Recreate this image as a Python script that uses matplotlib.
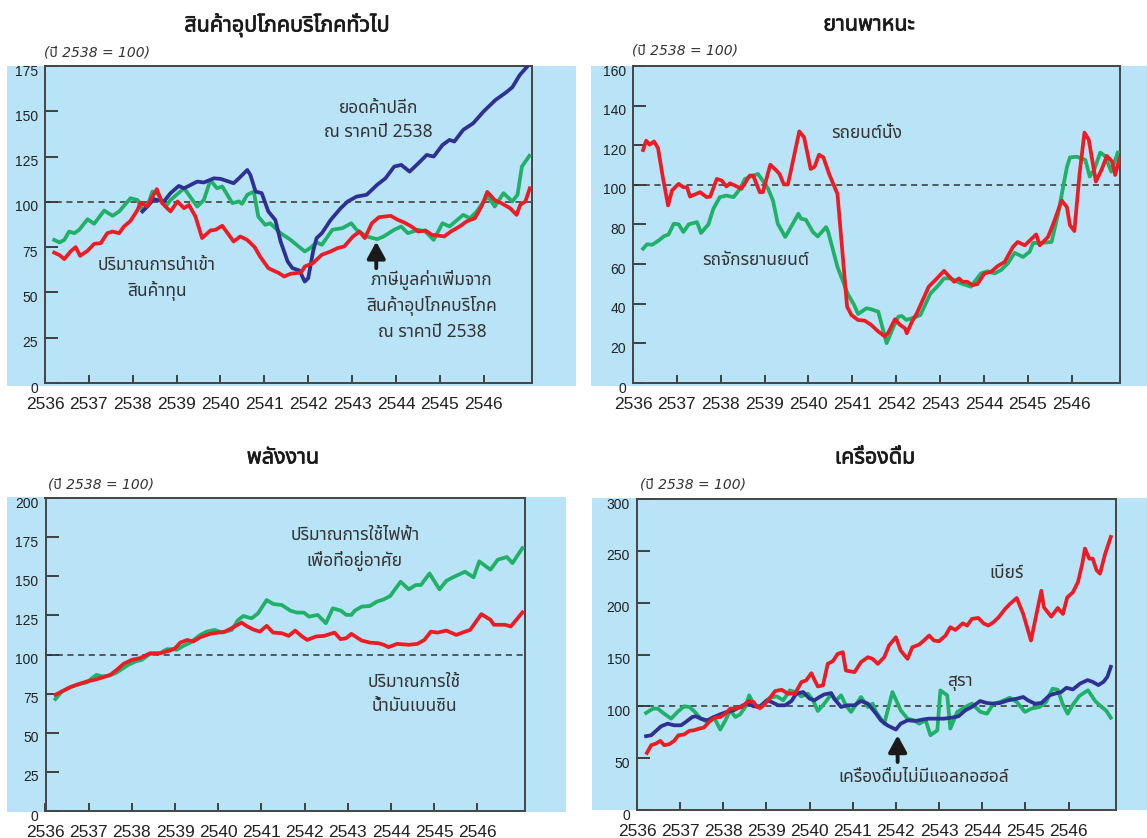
import matplotlib
matplotlib.use('Agg')
import matplotlib.pyplot as plt
import matplotlib.transforms as mtransforms
import matplotlib.patheffects as pe
from matplotlib.patches import Rectangle
from matplotlib import font_manager
from matplotlib.ft2font import FT2Font

# ---- data (index, 2538 = 100) ----
years = list(range(2536, 2547))

# general consumer goods
retail_x = [2538.22, 2538.33, 2538.48, 2538.71, 2538.86, 2539.05, 2539.17, 2539.47, 2539.62, 2539.85,
            2540.0, 2540.3, 2540.42, 2540.61, 2540.68, 2540.8, 2540.94, 2541.09, 2541.25, 2541.37,
            2541.53, 2541.64, 2541.8, 2541.92, 2542.0, 2542.11, 2542.19, 2542.31, 2542.51, 2542.74,
            2542.9, 2543.1, 2543.33, 2543.57, 2543.76, 2543.96, 2544.12, 2544.31, 2544.51, 2544.7,
            2544.86, 2545.06, 2545.22, 2545.33, 2545.53, 2545.76, 2546.0, 2546.27, 2546.48, 2546.65,
            2546.82, 2547.04]
retail_y = [94.7, 97.4, 101.5, 100.2, 104.8, 108.8, 107.5, 111.2, 110.7, 113,
            112.7, 110.3, 113, 117.6, 114.9, 105.7, 104.8, 94.7, 90, 78.1,
            67.1, 63.4, 62.1, 56, 57.9, 72.6, 80, 82.7, 90, 96.5,
            100.2, 102.9, 103.9, 109.4, 113, 119.5, 120.4, 116.7, 121.3, 125.9,
            125, 131.4, 134.2, 133.3, 139.7, 143.4, 150, 156.3, 159.9, 163.2,
            170, 176]

vat_x = [2536.21, 2536.33, 2536.44, 2536.55, 2536.67, 2536.78, 2536.97, 2537.12, 2537.35, 2537.54,
         2537.69, 2537.95, 2538.11, 2538.22, 2538.33, 2538.45, 2538.56, 2538.75, 2538.86, 2539.17,
         2539.47, 2539.62, 2539.77, 2539.92, 2540.04, 2540.27, 2540.42, 2540.49, 2540.61, 2540.76,
         2540.86, 2541.02, 2541.13, 2541.37, 2541.6, 2541.92, 2542.04, 2542.19, 2542.31, 2542.55,
         2542.78, 2542.98, 2543.1, 2543.33, 2543.57, 2543.72, 2543.96, 2544.12, 2544.27, 2544.51,
         2544.67, 2544.86, 2545.06, 2545.22, 2545.53, 2545.69, 2545.84, 2546.0, 2546.1, 2546.25,
         2546.45, 2546.65, 2546.77, 2546.87, 2547.04]
vat_y = [79, 77.6, 79, 83.6, 82.7, 84.6, 90.4, 87.9, 95.2, 92.3,
         94.7, 102, 101, 95.6, 97.4, 105.7, 104.8, 97.4, 101, 107.5,
         97.4, 101, 112, 107.5, 108.5, 99.3, 100.2, 98.9, 103.9, 105.7,
         91.9, 87.3, 88.2, 82.7, 79, 72.6, 74.4, 77.6, 76.3, 84.6,
         85.5, 88.2, 84.6, 80.9, 79.4, 80.9, 84.6, 86.4, 82.7, 84.6,
         83.6, 79, 88.2, 86.4, 92.8, 91, 94.7, 100.2, 103, 97.4,
         104.8, 100.2, 103.9, 119.5, 125.4]

imp_x = [2536.21, 2536.33, 2536.44, 2536.59, 2536.7, 2536.8, 2536.97, 2537.12, 2537.27, 2537.42,
         2537.54, 2537.69, 2537.8, 2537.95, 2538.11, 2538.18, 2538.33, 2538.45, 2538.55, 2538.67,
         2538.86, 2539.02, 2539.17, 2539.28, 2539.43, 2539.58, 2539.77, 2539.89, 2540.04, 2540.3,
         2540.45, 2540.61, 2540.78, 2540.9, 2541.09, 2541.33, 2541.45, 2541.6, 2541.84, 2541.92,
         2542.11, 2542.31, 2542.51, 2542.66, 2542.82, 2543.02, 2543.17, 2543.29, 2543.45, 2543.61,
         2543.88, 2544.04, 2544.19, 2544.35, 2544.51, 2544.67, 2544.82, 2545.1, 2545.25, 2545.45,
         2545.61, 2545.8, 2545.96, 2546.08, 2546.25, 2546.4, 2546.6, 2546.75, 2546.83, 2546.95,
         2547.05]
imp_y = [72, 70.6, 68.4, 72.8, 75, 70.2, 73, 76.8, 77.2, 82.7,
         83.6, 82.7, 86.4, 89.5, 95.6, 99.6, 97.4, 102.9, 107, 99.3,
         94.7, 100.2, 96.5, 98.3, 91.9, 80, 84.2, 84.6, 86.8, 78.1,
         80.9, 79, 75, 69.9, 63.4, 60.7, 58.8, 60.3, 61, 64.3,
         66.2, 70.8, 72.6, 74.4, 75.4, 80.9, 83.6, 80, 88.2, 91.5,
         92.3, 90.1, 88.6, 86.4, 83.6, 84.2, 81.8, 80.9, 83.6, 86.4,
         89.2, 91, 98, 105.5, 101, 99.3, 96.5, 92.8, 98.3, 100.2,
         107.5]

# vehicles
car_x = [2536.23, 2536.3, 2536.38, 2536.48, 2536.57, 2536.68, 2536.8, 2536.89, 2537.04, 2537.15,
         2537.23, 2537.3, 2537.53, 2537.68, 2537.76, 2537.91, 2538.02, 2538.13, 2538.21, 2538.32,
         2538.47, 2538.66, 2538.74, 2538.89, 2538.96, 2539.13, 2539.27, 2539.34, 2539.44, 2539.53,
         2539.6, 2539.79, 2539.9, 2540.05, 2540.14, 2540.24, 2540.34, 2540.47, 2540.66, 2540.88,
         2540.98, 2541.13, 2541.28, 2541.43, 2541.59, 2541.74, 2541.82, 2541.97, 2542.09, 2542.2,
         2542.24, 2542.36, 2542.47, 2542.74, 2542.89, 2543.09, 2543.32, 2543.43, 2543.51, 2543.62,
         2543.74, 2543.85, 2544.01, 2544.16, 2544.31, 2544.47, 2544.66, 2544.77, 2544.93, 2545.19,
         2545.27, 2545.46, 2545.58, 2545.77, 2545.89, 2545.96, 2546.06, 2546.18, 2546.29, 2546.39,
         2546.55, 2546.68, 2546.8, 2546.92, 2546.99, 2547.09]
car_y = [117.6, 122.3, 120.3, 121.9, 118.6, 103.9, 89.6, 97.2, 100.5, 98.8,
         98.8, 94.1, 96.3, 93.8, 94.1, 103, 102.2, 99.2, 100.8, 99.7,
         98, 104.7, 104.7, 96.3, 96.3, 110.2, 107.2, 105.5, 100.2, 100.2,
         107.2, 127, 124, 108, 109.2, 115.2, 113.9, 105.5, 95.5, 38.5,
         34.3, 31.8, 31.5, 29.3, 26, 23.5, 25.5, 32.2, 29.3, 27.6,
         25.1, 31, 35.2, 48.6, 51.9, 56.6, 51.1, 52.8, 51.1, 51.1,
         49.4, 49.9, 55.3, 56.1, 59, 61.1, 68.7, 71.2, 69.5, 75,
         69.5, 73.7, 80.4, 92.1, 88.8, 79.6, 76.7, 105.9, 126.4, 122.7,
         101.7, 107.6, 114.6, 111.8, 105, 113.4]

moto_x = [2536.23, 2536.32, 2536.44, 2536.59, 2536.7, 2536.81, 2536.93, 2537.04, 2537.15, 2537.27,
          2537.46, 2537.55, 2537.72, 2537.83, 2537.98, 2538.13, 2538.29, 2538.44, 2538.55, 2538.74,
          2538.85, 2538.93, 2539.08, 2539.19, 2539.3, 2539.47, 2539.6, 2539.77, 2539.83, 2539.94,
          2540.1, 2540.21, 2540.3, 2540.4, 2540.45, 2540.66, 2540.89, 2541.04, 2541.13, 2541.32,
          2541.43, 2541.59, 2541.78, 2541.94, 2542.05, 2542.13, 2542.23, 2542.36, 2542.55, 2542.78,
          2542.93, 2543.09, 2543.24, 2543.47, 2543.7, 2543.93, 2544.08, 2544.24, 2544.39, 2544.54,
          2544.7, 2544.89, 2545.04, 2545.12, 2545.31, 2545.54, 2545.69, 2545.81, 2545.89, 2545.96,
          2546.12, 2546.31, 2546.41, 2546.51, 2546.65, 2546.76, 2546.9, 2547.05]
moto_y = [67.8, 70, 69.8, 72, 74, 75, 80.4, 80.1, 76.2, 80.1,
          81.2, 75.7, 80.1, 87.9, 93.8, 94.6, 93.8, 98, 103, 104.7,
          105.5, 103, 98, 92.1, 80.4, 73.7, 78.7, 85.4, 82.9, 82.4,
          76.2, 74, 76.2, 78.7, 76.2, 58.6, 45.2, 39.4, 34.8, 37.7,
          37.2, 36, 20.1, 28.5, 33.5, 33.8, 31.8, 32.7, 34.3, 45.2,
          48.6, 52.8, 52.8, 50.3, 48.6, 55.3, 56.4, 55.3, 57, 60.3,
          65.7, 63.6, 66.2, 70.7, 70.7, 71.2, 85.4, 99.7, 108.9, 113.9,
          114.2, 112.6, 104.2, 107.6, 116.3, 114.6, 106.7, 116.3]

# energy
elec_x = [2536.23, 2536.38, 2536.58, 2536.81, 2536.96, 2537.08, 2537.18, 2537.31, 2537.46, 2537.62,
          2537.77, 2537.92, 2538.08, 2538.23, 2538.42, 2538.65, 2538.81, 2538.92, 2539.04, 2539.19,
          2539.35, 2539.58, 2539.73, 2539.92, 2540.08, 2540.31, 2540.46, 2540.58, 2540.77, 2540.92,
          2541.12, 2541.27, 2541.47, 2541.67, 2541.82, 2541.98, 2542.1, 2542.3, 2542.49, 2542.65,
          2542.84, 2542.96, 2543.08, 2543.16, 2543.32, 2543.51, 2543.67, 2543.83, 2543.98, 2544.22,
          2544.41, 2544.57, 2544.69, 2544.89, 2545.12, 2545.28, 2545.43, 2545.71, 2545.91, 2546.04,
          2546.3, 2546.47, 2546.68, 2546.81, 2547.04]
elec_y = [71.5, 76.4, 79.2, 81.3, 82.2, 84.9, 87, 86, 86.4, 88.1,
          90.7, 93.4, 95.5, 96.6, 100.4, 100.8, 103.4, 103.4, 103, 105.5,
          107.6, 112.5, 114.6, 115.7, 114, 115.7, 122.1, 124.6, 123.1, 126.3,
          134.8, 132.3, 131.6, 128, 126.8, 126.8, 124.2, 125.3, 120, 129.5,
          128, 125.3, 125.3, 128, 130.6, 131, 133.8, 135.2, 137.4, 146.5,
          141.6, 144.4, 144.4, 151.8, 141.6, 147.1, 149.3, 152.9, 149.3, 159.5,
          154.2, 160.6, 162.3, 158.4, 168]

gas_x = [2536.23, 2536.38, 2536.58, 2536.77, 2536.96, 2537.15, 2537.35, 2537.5, 2537.65, 2537.81,
         2538.0, 2538.19, 2538.42, 2538.65, 2538.88, 2539.0, 2539.12, 2539.28, 2539.42, 2539.58,
         2539.81, 2540.0, 2540.15, 2540.31, 2540.54, 2540.65, 2540.8, 2540.96, 2541.12, 2541.27,
         2541.47, 2541.63, 2541.78, 2541.94, 2542.06, 2542.26, 2542.45, 2542.69, 2542.83, 2542.96,
         2543.08, 2543.32, 2543.51, 2543.71, 2543.83, 2543.94, 2544.14, 2544.41, 2544.61, 2544.77,
         2544.92, 2545.08, 2545.28, 2545.51, 2545.71, 2545.83, 2546.02, 2546.09, 2546.3, 2546.38,
         2546.64, 2546.77, 2546.9, 2547.04]
gas_y = [74.3, 76.4, 79.2, 81.1, 82.8, 83.9, 85.6, 87, 90.2, 94.1,
         96.6, 97.7, 100.8, 100.8, 102.5, 104, 107.6, 109.3, 108.3, 111,
         113.2, 114, 114.6, 116.8, 120.4, 118.3, 116.1, 114.6, 118.3, 114,
         113.6, 111.9, 115.3, 111.5, 109.3, 111.5, 111.9, 114, 109.8, 110.4,
         113.2, 108.9, 107.6, 107.2, 106.2, 104.7, 106.8, 106.2, 106.8, 109.3,
         114.6, 114, 115.3, 112.5, 114.6, 115.7, 123.1, 125.8, 122.2, 119,
         119, 117.9, 122.2, 126.9]

# beverages
beer_x = [2536.23, 2536.33, 2536.44, 2536.54, 2536.63, 2536.75, 2536.86, 2536.96, 2537.09, 2537.21,
          2537.32, 2537.44, 2537.55, 2537.67, 2537.8, 2537.93, 2538.05, 2538.16, 2538.28, 2538.43,
          2538.59, 2538.7, 2538.78, 2538.89, 2539.04, 2539.2, 2539.35, 2539.5, 2539.66, 2539.81,
          2539.92, 2540.04, 2540.1, 2540.19, 2540.31, 2540.42, 2540.54, 2540.65, 2540.77, 2540.84,
          2541.04, 2541.19, 2541.35, 2541.46, 2541.58, 2541.73, 2541.84, 2542.0, 2542.11, 2542.27,
          2542.38, 2542.54, 2542.65, 2542.77, 2542.88, 2543.0, 2543.15, 2543.26, 2543.38, 2543.45,
          2543.55, 2543.65, 2543.76, 2543.91, 2544.03, 2544.14, 2544.26, 2544.38, 2544.53, 2544.64,
          2544.8, 2544.95, 2545.13, 2545.37, 2545.43, 2545.6, 2545.75, 2545.87, 2545.97, 2546.1,
          2546.22, 2546.32, 2546.38, 2546.48, 2546.56, 2546.65, 2546.73, 2546.85, 2546.98]
beer_y = [55.1, 62.5, 64.1, 66.7, 62.5, 63.5, 66.7, 72.1, 72.8, 76.3,
          76.9, 78.5, 79.5, 84.9, 89.1, 89.7, 92.9, 97.8, 97.8, 99.4,
          105.1, 104.2, 99.4, 99.4, 105.8, 114.7, 116, 112.2, 112.2, 123.4,
          125, 132, 126.6, 119.2, 120.2, 141, 143.6, 150.6, 152.2, 134.6,
          133, 142.6, 147.4, 145.8, 141, 147.4, 158.7, 166.7, 153.8, 145.8,
          157, 159.6, 163.5, 168.3, 163.5, 162.8, 168.3, 176.3, 173.7, 176.3,
          180.1, 177.9, 184.3, 185.3, 180.1, 177.9, 181.1, 185.9, 193.9, 198.7,
          204.5, 189.1, 163.5, 211.5, 195.5, 186.5, 194.9, 189.1, 205.1, 209.9,
          220, 237.7, 252.2, 242.5, 242.5, 231.3, 228, 247.3, 263.4]

spirit_x = [2536.21, 2536.33, 2536.44, 2536.56, 2536.71, 2536.86, 2537.02, 2537.13, 2537.28, 2537.36,
            2537.48, 2537.63, 2537.78, 2537.93, 2538.08, 2538.24, 2538.39, 2538.55, 2538.7, 2538.85,
            2539.01, 2539.12, 2539.27, 2539.43, 2539.58, 2539.69, 2539.85, 2540.0, 2540.11, 2540.23,
            2540.34, 2540.5, 2540.57, 2540.73, 2540.88, 2541.04, 2541.19, 2541.35, 2541.54, 2541.65,
            2541.8, 2542.0, 2542.11, 2542.27, 2542.46, 2542.61, 2542.76, 2542.96, 2543.11, 2543.3,
            2543.45, 2543.61, 2543.76, 2543.95, 2544.11, 2544.26, 2544.41, 2544.6, 2544.8, 2544.95,
            2545.06, 2545.22, 2545.37, 2545.56, 2545.68, 2545.83, 2545.95, 2546.1, 2546.27, 2546.44,
            2546.56, 2546.69, 2546.81, 2546.9, 2546.98]
spirit_y = [71.2, 72.1, 76.3, 80.8, 83.3, 81.7, 81.7, 84.9, 89.7, 90.4,
            88.1, 86.5, 89.7, 92.3, 94.6, 96.2, 99.4, 103.2, 100, 100,
            105.8, 104.2, 101, 101, 105.1, 112.2, 113.8, 107.4, 105.8, 109,
            111.5, 112.8, 107.4, 99.4, 101, 101, 105.1, 102.6, 92.9, 86.5,
            81.7, 77.6, 83.3, 86.5, 85.9, 87.2, 88.1, 88.1, 88.1, 89.1,
            90.4, 96.2, 99.4, 105.1, 103.2, 102.6, 103.2, 105.8, 107.4, 109,
            105.8, 102.6, 103.2, 110.6, 112.2, 113.8, 117.9, 116.3, 122, 125.3,
            123.6, 120.5, 123.6, 128.5, 138.1]

soft_x = [2536.21, 2536.37, 2536.48, 2536.63, 2536.79, 2536.94, 2537.09, 2537.21, 2537.32, 2537.48,
          2537.63, 2537.78, 2537.93, 2538.05, 2538.16, 2538.28, 2538.39, 2538.51, 2538.6, 2538.7,
          2538.85, 2539.01, 2539.08, 2539.24, 2539.39, 2539.54, 2539.66, 2539.81, 2539.96, 2540.08,
          2540.19, 2540.34, 2540.5, 2540.61, 2540.73, 2540.84, 2540.96, 2541.19, 2541.35, 2541.46,
          2541.54, 2541.73, 2541.92, 2542.11, 2542.27, 2542.42, 2542.54, 2542.69, 2542.8, 2542.96,
          2543.03, 2543.19, 2543.26, 2543.42, 2543.61, 2543.76, 2543.96, 2544.11, 2544.26, 2544.41,
          2544.64, 2544.8, 2544.99, 2545.14, 2545.33, 2545.48, 2545.63, 2545.75, 2545.86, 2545.98,
          2546.09, 2546.25, 2546.45, 2546.62, 2546.75, 2546.87, 2546.98]
soft_y = [93.6, 97.8, 97.8, 92.9, 88.1, 94.6, 100, 99.4, 95.5, 88.1,
          84.9, 89.7, 77.6, 86.5, 96.2, 89.7, 92.3, 99.4, 110.6, 102.6,
          97.8, 105.8, 108.3, 109.6, 105.8, 115.4, 113.8, 109.6, 112.2, 105.8,
          95.5, 102.6, 111.5, 105.8, 110.6, 101, 94.6, 109, 99.4, 102.6,
          94.6, 83.3, 113.8, 96.2, 88.1, 86.5, 83.3, 86.5, 72.1, 76.9,
          115.4, 110.6, 78.5, 94.6, 99.4, 102.6, 94.6, 92.9, 102.6, 104.2,
          108.3, 104.2, 94.6, 97.8, 99.4, 104.2, 117, 116, 102.6, 92.9,
          101, 110, 115.5, 105, 100, 96, 89]

# ---- fonts: find something that can draw Thai ----
def find_thai_font():
    preferred = ['Noto Sans Thai', 'Loma', 'Garuda', 'Waree', 'Sawasdee', 'Umpush', 'Tahoma']
    found = []
    for f in font_manager.fontManager.ttflist:
        try:
            if 0x0E01 in FT2Font(f.fname).get_charmap():
                found.append(f.name)
        except Exception:
            pass
    for p in preferred:
        if p in found:
            return p
    return found[0] if found else None

thai = find_thai_font()
thai_list = [thai] if thai else []
plt.rcParams['font.family'] = thai_list + ['Liberation Sans', 'DejaVu Sans']
NUMFONT = 'Liberation Sans'

RED = '#ED1C24'
GREEN = '#20B068'
BLUE = '#2E3192'
BAND = '#B9E3F7'
INK = '#333333'

W, H = 1147, 838
fig = plt.figure(figsize=(W / 100, H / 100), dpi=100)


def band(x0, y0, x1, y1):
    fig.add_artist(Rectangle((x0 / W, 1 - y1 / H), (x1 - x0) / W, (y1 - y0) / H,
                             transform=fig.transFigure, facecolor=BAND,
                             edgecolor='none', zorder=-1))


def panel(box, ymax, ystep, title, title_xy, unit_xy):
    x0, y0, x1, y1 = box
    ax = fig.add_axes([x0 / W, 1 - y1 / H, (x1 - x0) / W, (y1 - y0) / H])
    ax.set_facecolor(BAND)
    ax.set_xlim(2536, 2547.1)
    ax.set_ylim(0, ymax)
    ax.set_xticks(years)
    ax.set_xticklabels([str(y) for y in years], fontfamily=NUMFONT, fontsize=12.5, color='#222222')
    ax.set_yticks(list(range(0, ymax + 1, ystep)))
    ax.set_yticklabels([str(v) for v in range(0, ymax + 1, ystep)],
                       fontfamily=NUMFONT, fontsize=10, color='#222222')
    ax.tick_params(axis='y', direction='in', length=9, width=1.3, color=INK, pad=5)
    ax.tick_params(axis='x', direction='in', length=6, width=1.3, color=INK, pad=10)
    shift = mtransforms.ScaledTranslation(0, -4 / 100, fig.dpi_scale_trans)
    for lab in ax.get_yticklabels():
        lab.set_transform(lab.get_transform() + shift)
    for s in ax.spines.values():
        s.set_color('#444444')
        s.set_linewidth(1.4)
    ax.axhline(100, color=INK, lw=1.1, ls=(0, (4, 3)), zorder=1)
    # title: thicken the Thai face slightly with a thin stroke
    fig.text(title_xy[0] / W, 1 - title_xy[1] / H, title, ha='center', va='center',
             fontsize=15.5, fontweight='bold', color='#1a1a1a',
             path_effects=[pe.withStroke(linewidth=0.5, foreground='#1a1a1a')])
    fig.text(unit_xy[0] / W, 1 - unit_xy[1] / H, '(ปี 2538 = 100)', ha='left', va='center',
             fontsize=10, fontstyle='italic', color='#333333',
             family=['DejaVu Sans'] + thai_list)
    return ax


def arrow(ax, x, y_from, y_to):
    ax.annotate('', xy=(x, y_to), xytext=(x, y_from),
                arrowprops=dict(arrowstyle='-|>,head_length=1.0,head_width=0.55',
                                lw=2.8, color='#1a1a1a', shrinkA=0, shrinkB=0))


LW = 2.7
TXT = dict(fontsize=12.5, color='#333333', ha='center', va='center', linespacing=1.45)

# bands behind each panel
band(7, 66, 576, 386)
band(591, 66, 1147, 386)
band(7, 497, 566, 812)
band(592, 498, 1147, 810)

# panel 1: general consumer goods
ax1 = panel((45, 66, 532, 383), 175, 25, 'สินค้าอุปโภคบริโภคทั่วไป', (287, 25), (44, 53))
ax1.plot(vat_x, vat_y, color=GREEN, lw=LW, zorder=3)
ax1.plot(imp_x, imp_y, color=RED, lw=LW, zorder=4)
ax1.plot(retail_x, retail_y, color=BLUE, lw=LW, zorder=3)
ax1.text(2543.6, 145.3, 'ยอดค้าปลีก\nณ ราคาปี 2538', **TXT)
ax1.text(2538.55, 57.6, 'ปริมาณการนำเข้า\nสินค้าทุน', **TXT)
ax1.text(2544.82, 43, 'ภาษีมูลค่าเพิ่มจาก\nสินค้าอุปโภคบริโภค\nณ ราคาปี 2538', **TXT)
arrow(ax1, 2543.55, 63.4, 78)

# panel 2: vehicles
ax2 = panel((633, 66, 1120, 383), 160, 20, 'ยานพาหนะ', (869, 25), (632, 51))
ax2.plot(moto_x, moto_y, color=GREEN, lw=LW, zorder=3)
ax2.plot(car_x, car_y, color=RED, lw=LW, zorder=4)
ax2.text(2541.33, 126.2, 'รถยนต์นั่ง', **TXT)
ax2.text(2538.8, 62.1, 'รถจักรยานยนต์', **TXT)

# panel 3: energy
ax3 = panel((45.5, 498, 525, 811), 200, 25, 'พลังงาน', (283, 458), (48, 484))
ax3.plot(elec_x, elec_y, color=GREEN, lw=LW, zorder=3)
ax3.plot(gas_x, gas_y, color=RED, lw=LW, zorder=4)
ax3.text(2543.16, 168, 'ปริมาณการใช้ไฟฟ้า\nเพื่อที่อยู่อาศัย', **TXT)
ax3.text(2544.53, 74.8, 'ปริมาณการใช้\nน้ำมันเบนซิน', **TXT)

# panel 4: beverages
ax4 = panel((637, 499, 1116, 810), 300, 50, 'เครื่องดื่ม', (875, 458), (640, 484))
ax4.plot(soft_x, soft_y, color=GREEN, lw=LW, zorder=3)
ax4.plot(spirit_x, spirit_y, color=BLUE, lw=LW, zorder=3)
ax4.plot(beer_x, beer_y, color=RED, lw=LW, zorder=4)
ax4.text(2544.57, 228.5, 'เบียร์', **TXT)
ax4.text(2543.49, 123.4, 'สุรา', **TXT)
ax4.text(2542.65, 31.8, 'เครื่องดื่มไม่มีแอลกอฮอล์', **TXT)
arrow(ax4, 2542.04, 46.3, 72)

fig.savefig('out.png', dpi=100)
